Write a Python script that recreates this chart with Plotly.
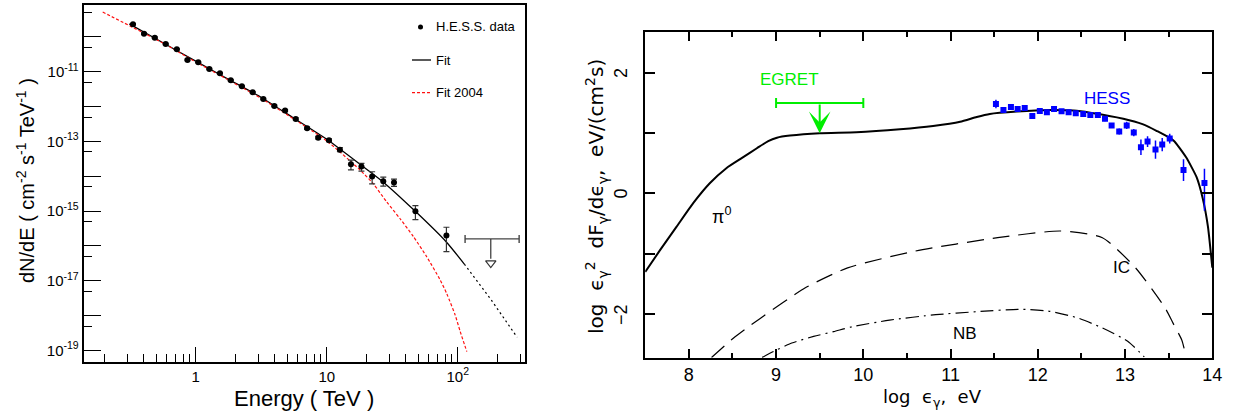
import plotly.graph_objects as go

W, H = 1235, 417
FONT = "Liberation Sans, Arial, sans-serif"
FONT2 = "DejaVu Sans, sans-serif"

# ================= Left panel: H.E.S.S. spectrum =================
hess_energy = [0.332, 0.403, 0.487, 0.590, 0.717, 0.865, 1.045, 1.27, 1.53, 1.85,
               2.25, 2.72, 3.28, 3.98, 4.81, 5.80, 7.08, 8.60, 10.4, 12.6,
               15.3, 18.4, 22.2, 27.0, 32.6, 47.5, 81.9]
hess_flux = [2.29e-10, 1.23e-10, 9.44e-11, 6.22e-11, 4.39e-11, 2.17e-11, 1.86e-11, 1.19e-11,
             8.99e-12, 5.66e-12, 3.81e-12, 2.56e-12, 1.65e-12, 1.04e-12, 7.62e-13, 4.41e-13,
             2.38e-13, 1.28e-13, 1.08e-13, 5.79e-14, 2.21e-14, 1.89e-14, 9.75e-15, 7.19e-15,
             6.56e-15, 9.93e-16, 1.98e-16]
hess_err_up_dex = [0.02] * 14 + [0.03, 0.03, 0.03, 0.04, 0.04, 0.06,
                                 0.12, 0.09, 0.14, 0.12, 0.10, 0.16, 0.24]
hess_err_dn_dex = [0.02] * 14 + [0.03, 0.03, 0.03, 0.04, 0.04, 0.06,
                                 0.16, 0.13, 0.21, 0.14, 0.11, 0.24, 0.46]

fit_logE = [-0.507, -0.25, 0.0, 0.25, 0.5, 0.75, 1.0, 1.262, 1.432, 1.674, 1.911, 2.05]
fit_logF = [-9.63, -10.17, -10.70, -11.22, -11.74, -12.34, -12.94, -13.68, -14.17, -15.00, -15.88, -16.52]
fit_ext_logE = [2.05, 2.25, 2.453]
fit_ext_logF = [-16.52, -17.52, -18.62]
fit2004_logE = [-0.71, -0.25, 0.0, 0.5, 1.0, 1.254, 1.356, 1.458, 1.560, 1.661, 1.763, 1.865, 1.916, 1.979, 2.018, 2.069]
fit2004_logF = [-9.29, -10.18, -10.72, -11.77, -12.99, -13.82, -14.22, -14.74, -15.22, -15.73, -16.31, -16.97, -17.37, -17.97, -18.45, -19.03]

ul_energy = 178.6
ul_energy_lo = 113.7
ul_energy_hi = 294.0
ul_flux = 1.59e-16
ul_arrow_top = 4.3e-17
ul_arrow_tip = 2.4e-17

left_xtick_vals = [1, 10, 100]
left_xtick_text = ["1", "10", "10<sup>2</sup>"]
left_xminor_vals = [0.2, 0.3, 0.4, 0.5, 0.6, 0.7, 0.8, 0.9, 2, 3, 4, 5, 6, 7, 8, 9,
                    20, 30, 40, 50, 60, 70, 80, 90, 200, 300]
left_ytick_exps = list(range(-19, -9))
left_ylabel_exps = [-19, -17, -15, -13, -11]

# ================= Right panel: model SED =================
pi0_x = [7.5, 7.67, 7.86, 8.05, 8.24, 8.43, 8.61, 8.78, 8.91, 9.01, 9.16, 9.50, 9.92, 10.42,
         10.80, 11.11, 11.30, 11.45, 11.76, 12.14, 12.41, 12.60, 12.98, 13.20, 13.36, 13.555,
         13.70, 13.82, 13.89, 13.95, 14.0]
pi0_y = [-1.30, -0.94, -0.55, -0.16, 0.17, 0.42, 0.59, 0.75, 0.87, 0.925, 0.96, 1.00, 1.015, 1.065,
         1.12, 1.19, 1.27, 1.32, 1.36, 1.385, 1.375, 1.34, 1.24, 1.15, 1.04, 0.88,
         0.60, 0.27, -0.08, -0.55, -1.23]
ic_x = [8.26, 8.51, 8.66, 8.81, 9.34, 9.82, 10.59, 11.54, 12.26, 12.74, 13.12, 13.46, 13.55, 13.65, 13.69]
ic_y = [-2.72, -2.40, -2.235, -2.08, -1.56, -1.233, -0.956, -0.733, -0.622, -0.733, -1.233, -1.90,
        -2.15, -2.43, -2.65]
nb_x = [8.84, 8.97, 9.18, 9.43, 9.66, 9.87, 10.30, 10.83, 11.30, 11.78, 12.12, 12.45, 12.74, 13.03, 13.22]
nb_y = [-2.72, -2.62, -2.48, -2.37, -2.29, -2.21, -2.10, -2.01, -1.96, -1.92, -1.95, -2.06, -2.23,
        -2.45, -2.71]

hess2_x = [11.52, 11.606, 11.692, 11.769, 11.850, 11.937, 12.023, 12.104, 12.186, 12.272, 12.353,
           12.435, 12.521, 12.602, 12.688, 12.770, 12.846, 12.933, 13.019, 13.100, 13.182, 13.258,
           13.349, 13.426, 13.512, 13.670, 13.910]
hess2_y = [1.484, 1.385, 1.434, 1.401, 1.418, 1.285, 1.368, 1.347, 1.401, 1.363, 1.347, 1.330,
           1.318, 1.302, 1.30, 1.239, 1.128, 1.028, 1.128, 1.011, 0.767, 0.861, 0.728, 0.811,
           0.911, 0.389, 0.172]
hess2_err_up = [0.07, 0.05, 0.05, 0.05, 0.05] + [0.04] * 12 + [0.05, 0.06, 0.06, 0.13, 0.09, 0.15,
                                                               0.11, 0.08, 0.18, 0.24]
hess2_err_dn = [0.07, 0.05, 0.05, 0.05, 0.05] + [0.04] * 12 + [0.05, 0.06, 0.06, 0.13, 0.09, 0.15,
                                                               0.11, 0.08, 0.18, 0.46]

egret_x = 9.5
egret_halfwidth = 0.5
egret_y = 1.5
egret_arrow_tip = 1.0

right_xtick_vals = [8, 9, 10, 11, 12, 13, 14]
right_ytick_vals = [-2, -1, 0, 1, 2]
right_ylabel_vals = [-2, 0, 2]
right_ylabel_text = ["\u22122", "0", "2"]


def px(x):
    return x / W


def py(y):
    return 1 - y / H


fig = go.Figure()

# ---- left panel traces ----
fit_E = [10 ** v for v in fit_logE]
fit_F = [10 ** v for v in fit_logF]
fig.add_trace(go.Scatter(x=fit_E, y=fit_F, mode="lines", name="Fit",
                         line=dict(color="black", width=1.3, shape="spline", smoothing=0.6),
                         xaxis="x", yaxis="y", showlegend=False))
fig.add_trace(go.Scatter(x=[10 ** v for v in fit_ext_logE], y=[10 ** v for v in fit_ext_logF],
                         mode="lines", line=dict(color="black", width=1.2, dash="2px,3px"),
                         xaxis="x", yaxis="y", showlegend=False))
fig.add_trace(go.Scatter(x=[10 ** v for v in fit2004_logE], y=[10 ** v for v in fit2004_logF],
                         mode="lines", name="Fit 2004",
                         line=dict(color="#ff1010", width=1.2, dash="3px,2px", shape="spline", smoothing=0.6),
                         xaxis="x", yaxis="y", showlegend=False))

err_plus = [f * (10 ** u - 1) for f, u in zip(hess_flux, hess_err_up_dex)]
err_minus = [f * (1 - 10 ** (-d)) for f, d in zip(hess_flux, hess_err_dn_dex)]
fig.add_trace(go.Scatter(x=hess_energy, y=hess_flux, mode="markers", name="H.E.S.S. data",
                         marker=dict(color="black", size=6),
                         error_y=dict(type="data", symmetric=False, array=err_plus, arrayminus=err_minus,
                                      color="#333333", thickness=1.2, width=3),
                         xaxis="x", yaxis="y", showlegend=False))

# upper limit
fig.add_trace(go.Scatter(x=[ul_energy], y=[ul_flux], mode="markers",
                         marker=dict(size=1, color="rgba(0,0,0,0)"),
                         error_x=dict(type="data", symmetric=False, array=[ul_energy_hi - ul_energy],
                                      arrayminus=[ul_energy - ul_energy_lo], color="#444444",
                                      thickness=1.4, width=4),
                         xaxis="x", yaxis="y", showlegend=False))
fig.add_trace(go.Scatter(x=[ul_energy, ul_energy], y=[ul_flux, ul_arrow_top], mode="lines",
                         line=dict(color="#333333", width=1.2), xaxis="x", yaxis="y", showlegend=False))
ul_tri = (ul_arrow_top * ul_arrow_tip) ** 0.5
fig.add_trace(go.Scatter(x=[ul_energy], y=[ul_tri], mode="markers",
                         marker=dict(symbol="triangle-down-open", size=9, color="#333333",
                                     line=dict(width=1.2, color="#333333")),
                         xaxis="x", yaxis="y", showlegend=False))

# ---- right panel traces ----
fig.add_trace(go.Scatter(x=pi0_x, y=pi0_y, mode="lines", name="pi0",
                         line=dict(color="black", width=2, shape="spline", smoothing=0.5),
                         xaxis="x2", yaxis="y2", showlegend=False))
fig.add_trace(go.Scatter(x=ic_x, y=ic_y, mode="lines", name="IC",
                         line=dict(color="black", width=1.2, dash="17px,9px", shape="spline", smoothing=0.6),
                         xaxis="x2", yaxis="y2", showlegend=False))
fig.add_trace(go.Scatter(x=nb_x, y=nb_y, mode="lines", name="NB",
                         line=dict(color="black", width=1.2, dash="13px,5px,2px,5px", shape="spline", smoothing=0.6),
                         xaxis="x2", yaxis="y2", showlegend=False))
fig.add_trace(go.Scatter(x=hess2_x, y=hess2_y, mode="markers", name="HESS",
                         marker=dict(symbol="square", size=6, color="#0000ff"),
                         error_y=dict(type="data", symmetric=False, array=hess2_err_up, arrayminus=hess2_err_dn,
                                      color="#0000ff", thickness=1.5, width=0),
                         xaxis="x2", yaxis="y2", showlegend=False))
fig.add_trace(go.Scatter(x=[egret_x], y=[egret_y], mode="markers", name="EGRET",
                         marker=dict(size=1, color="rgba(0,0,0,0)"),
                         error_x=dict(type="data", array=[egret_halfwidth], color="#00ee00", thickness=2, width=5),
                         xaxis="x2", yaxis="y2", showlegend=False))


def ann(x, y, text, size, color="black", family=FONT, xref="paper", yref="paper",
        xanchor="center", angle=0):
    return dict(x=x, y=y, xref=xref, yref=yref, text=text, showarrow=False, textangle=angle,
                xanchor=xanchor, yanchor="middle", font=dict(family=family, size=size, color=color))


annotations = [
    dict(x=egret_x, y=egret_arrow_tip, ax=egret_x, ay=egret_y, xref="x2", yref="y2",
         axref="x2", ayref="y2", showarrow=True, arrowhead=3, arrowsize=1.8, arrowwidth=2,
         arrowcolor="#00ee00", text=""),
    ann(9.15, 1.89, "EGRET", 17, "#00ee00", xref="x2", yref="y2"),
    ann(12.79, 1.58, "HESS", 17, "#0000ff", xref="x2", yref="y2"),
    ann(8.38, -0.36, "\u03c0<sup>0</sup>", 18, xref="x2", yref="y2"),
    ann(12.96, -1.23, "IC", 17, xref="x2", yref="y2"),
    ann(11.165, -2.32, "NB", 17, xref="x2", yref="y2"),
    # axis titles
    ann(px(304), py(398), "Energy ( TeV )", 22),
    ann(px(25), py(181), "dN/dE ( cm<sup>-2</sup> s<sup>-1</sup> TeV<sup>-1</sup> )", 20, angle=-90),
    ann(px(932), py(398), "log  \u03f5<sub>\u03b3</sub>,  eV", 18, family=FONT2),
    ann(px(597), py(197),
        "log  \u03f5<sub>\u03b3</sub><sup>2</sup>  dF<sub>\u03b3</sub>/d\u03f5<sub>\u03b3</sub>,  eV/(cm<sup>2</sup>s)",
        20, family=FONT2, angle=-90),
    # legend texts
    ann(px(434), py(26.5), "H.E.S.S. data", 13, xanchor="left"),
    ann(px(434), py(60), "Fit", 13, xanchor="left"),
    ann(px(434), py(92.7), "Fit 2004", 13, xanchor="left"),
]
# rotated y tick labels of the right panel
for v, t in zip(right_ylabel_vals, right_ylabel_text):
    annotations.append(ann(px(621), v, t, 18, yref="y2", angle=-90))

shapes = [
    dict(type="circle", xref="paper", yref="paper", x0=px(418), x1=px(423), y0=py(29.5), y1=py(24.5),
         fillcolor="black", line=dict(color="black", width=0)),
    dict(type="line", xref="paper", yref="paper", x0=px(412), x1=px(431), y0=py(60), y1=py(60),
         line=dict(color="black", width=1.3)),
    dict(type="line", xref="paper", yref="paper", x0=px(412), x1=px(431), y0=py(92.7), y1=py(92.7),
         line=dict(color="#ff1010", width=1.2, dash="3px,2px")),
]

left_ytick_vals = [10.0 ** e for e in left_ytick_exps]
left_ytick_text = [("10<sup>%d</sup>" % e) if e in left_ylabel_exps else "" for e in left_ytick_exps]
left_yminor_vals = [5 * 10.0 ** e for e in range(-20, -9)]

fig.update_layout(
    width=W, height=H, autosize=False,
    margin=dict(l=0, r=0, t=0, b=0, autoexpand=False),
    paper_bgcolor="white", plot_bgcolor="white",
    showlegend=False,
    xaxis=dict(type="log", range=[-0.855, 2.51], domain=[px(83.7), px(524.6)], anchor="y",
               automargin=False,
               showline=True, linecolor="black", linewidth=2, mirror=True,
               ticks="inside", ticklen=15, tickwidth=1, tickcolor="black",
               tickmode="array", tickvals=left_xtick_vals, ticktext=left_xtick_text,
               minor=dict(ticks="inside", ticklen=8, tickwidth=1, tickcolor="black",
                          tickmode="array", tickvals=left_xminor_vals),
               showgrid=False, zeroline=False,
               tickfont=dict(family=FONT, size=15, color="black")),
    yaxis=dict(type="log", range=[-19.315, -9.088], domain=[py(361.5), py(5)], anchor="x",
               automargin=False,
               showline=True, linecolor="black", linewidth=2, mirror=True,
               ticks="inside", ticklen=17, tickwidth=1, tickcolor="black",
               tickmode="array", tickvals=left_ytick_vals, ticktext=left_ytick_text,
               minor=dict(ticks="inside", ticklen=8, tickwidth=1, tickcolor="black",
                          tickmode="array", tickvals=left_yminor_vals),
               showgrid=False, zeroline=False,
               tickfont=dict(family=FONT, size=15, color="black")),
    xaxis2=dict(range=[7.5, 14], domain=[px(645.2), px(1212.3)], anchor="y2",
                automargin=False,
                showline=True, linecolor="black", linewidth=2, mirror="allticks",
                ticks="inside", ticklen=9, tickwidth=1.5, tickcolor="black",
                tickmode="array", tickvals=right_xtick_vals,
                minor=dict(ticks="inside", ticklen=5, tickwidth=1.5, tickcolor="black", dtick=0.5),
                showgrid=False, zeroline=False,
                tickfont=dict(family=FONT, size=18, color="black")),
    yaxis2=dict(range=[-2.723, 2.683], domain=[py(357.7), py(31.7)], anchor="x2",
                automargin=False,
                showline=True, linecolor="black", linewidth=2, mirror="allticks",
                ticks="inside", ticklen=10, tickwidth=1.5, tickcolor="black",
                tickmode="array", tickvals=right_ytick_vals, showticklabels=False,
                showgrid=False, zeroline=False),
    annotations=annotations,
    shapes=shapes,
)

fig.write_html("out.html", config={"displayModeBar": False},
               post_script="document.body.style.margin='0px';")
